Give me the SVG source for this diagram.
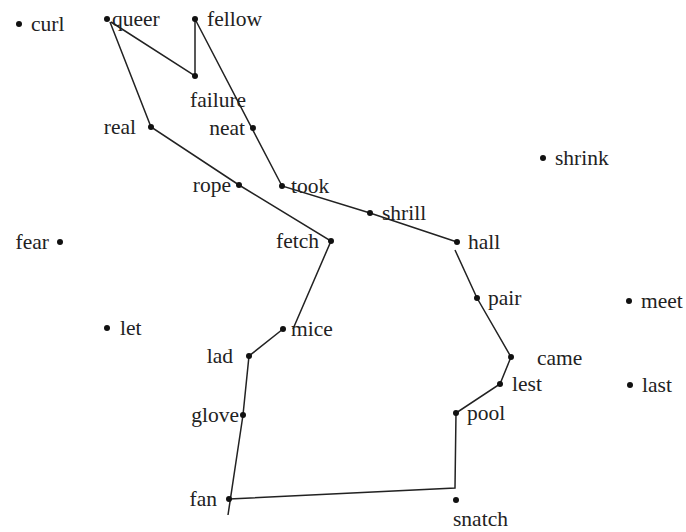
<svg xmlns="http://www.w3.org/2000/svg" width="686" height="532" viewBox="0 0 686 532">
<style>
text{font-family:"Liberation Serif","Times New Roman",serif;font-size:21.5px;fill:#222}
circle{fill:#111}
.e{stroke:#222;stroke-width:1.5;fill:none}
.r{text-anchor:end}
</style>
<rect width="686" height="532" fill="#fff"/>
<g id="connectors">
<path class="e" d="M111,22 L195,76 L195,19 L282,186 L370,213 L457,242"/>
<path class="e" d="M110,22 L151,127 L239,185 L331,241 L293,329"/>
<path class="e" d="M283,329 L249,356 L243,415 L228,515"/>
<path class="e" d="M229,499 L455,488 L456,413 L500,384 L511,357 L477,298 L455,250"/>
</g>
<g id="curl"><circle cx="19" cy="24" r="3"/><text x="31" y="31">curl</text></g>
<g id="queer"><circle cx="107" cy="19" r="3"/><text x="112" y="26">queer</text></g>
<g id="fellow"><circle cx="195" cy="19" r="3"/><text x="207" y="26">fellow</text></g>
<g id="failure"><circle cx="195" cy="76" r="3"/><text x="190" y="107">failure</text></g>
<g id="real"><circle cx="151" cy="127" r="3"/><text class="r" x="136" y="134">real</text></g>
<g id="neat"><circle cx="253" cy="128" r="3"/><text class="r" x="245" y="135">neat</text></g>
<g id="rope"><circle cx="239" cy="185" r="3"/><text class="r" x="231" y="192">rope</text></g>
<g id="took"><circle cx="282" cy="186" r="3"/><text x="291" y="193">took</text></g>
<g id="shrill"><circle cx="370" cy="213" r="3"/><text x="382" y="220">shrill</text></g>
<g id="shrink"><circle cx="543" cy="158" r="3"/><text x="555" y="165">shrink</text></g>
<g id="fear"><circle cx="60" cy="242" r="3"/><text class="r" x="49" y="249">fear</text></g>
<g id="fetch"><circle cx="331" cy="241" r="3"/><text class="r" x="319" y="248">fetch</text></g>
<g id="hall"><circle cx="457" cy="242" r="3"/><text x="468" y="249">hall</text></g>
<g id="pair"><circle cx="477" cy="298" r="3"/><text x="488" y="305">pair</text></g>
<g id="meet"><circle cx="629" cy="301" r="3"/><text x="641" y="308">meet</text></g>
<g id="let"><circle cx="107" cy="328" r="3"/><text x="120" y="335">let</text></g>
<g id="mice"><circle cx="283" cy="329" r="3"/><text x="291" y="336">mice</text></g>
<g id="lad"><circle cx="249" cy="356" r="3"/><text class="r" x="233" y="363">lad</text></g>
<g id="came"><circle cx="511" cy="357" r="3"/><text x="537" y="365">came</text></g>
<g id="lest"><circle cx="500" cy="384" r="3"/><text x="512" y="391">lest</text></g>
<g id="last"><circle cx="630" cy="385" r="3"/><text x="642" y="392">last</text></g>
<g id="glove"><circle cx="243" cy="415" r="3"/><text class="r" x="239" y="422">glove</text></g>
<g id="pool"><circle cx="456" cy="413" r="3"/><text x="467" y="420">pool</text></g>
<g id="fan"><circle cx="229" cy="499" r="3"/><text class="r" x="217" y="506">fan</text></g>
<g id="snatch"><circle cx="456" cy="500" r="3"/><text x="453" y="526">snatch</text></g>
</svg>
